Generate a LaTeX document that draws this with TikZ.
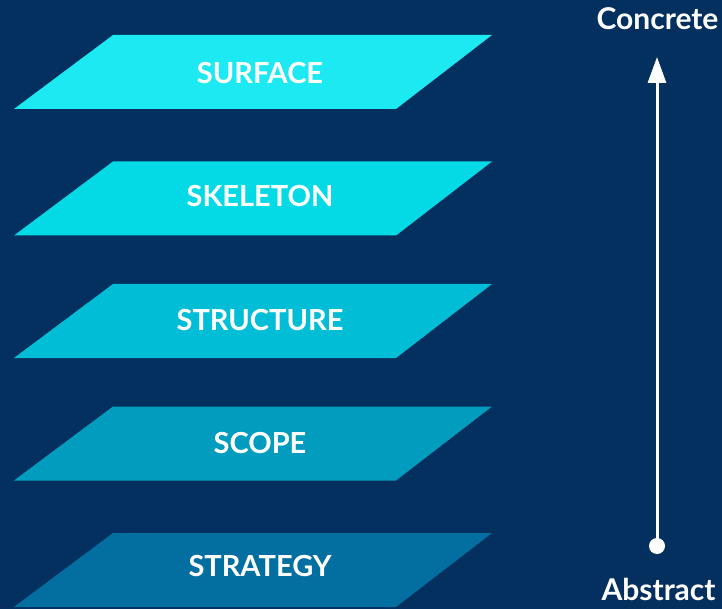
\documentclass[tikz,border=0pt]{standalone}
\usepackage{fontspec}
\setmainfont{Lato}
\usetikzlibrary{arrows.meta}
\definecolor{bg}{HTML}{03305F}
\definecolor{cSurface}{HTML}{1CE9F1}
\definecolor{cSkeleton}{HTML}{03DAE6}
\definecolor{cStructure}{HTML}{01BED6}
\definecolor{cScope}{HTML}{019CBE}
\definecolor{cStrategy}{HTML}{026FA0}
\tikzset{
  layerlabel/.style={text=white, font=\bfseries\fontsize{29}{33}\selectfont, inner sep=0pt},
  endlabel/.style={text=white, font=\bfseries\fontsize{30}{34}\selectfont, inner sep=0pt},
}
\newcommand{\layerplane}[5]{%
  % #1 top y, #2 colour, #3 name, #4 text, #5 label y
  \fill[#2] (113,-#1) -- (492,-#1) -- (396,-#1-74) -- (14,-#1-74) -- cycle;
  \node[layerlabel] (#3) at (260,-#5) {#4};
}
\begin{document}
\begin{tikzpicture}[x=1pt,y=1pt]
\fill[bg] (0,0) rectangle (722,-609);
\useasboundingbox (0,0) rectangle (722,-609);
\layerplane{35}{cSurface}{surface}{SURFACE}{73}
\layerplane{161.5}{cSkeleton}{skeleton}{SKELETON}{196.5}
\layerplane{284}{cStructure}{structure}{STRUCTURE}{320}
\layerplane{406.5}{cScope}{scope}{SCOPE}{443}
\layerplane{533}{cStrategy}{strategy}{STRATEGY}{566.5}
\node[endlabel] (concrete) at (657.5,-18.5) {Concrete};
\node[endlabel] (abstract) at (658.5,-589) {Abstract};
\coordinate (base) at (657,-546);
\coordinate (tip) at (657,-57);
\fill[white] (base) circle (8);
\draw[white, line width=3, -{Triangle[width=18,length=26]}] (base) -- (tip);
\end{tikzpicture}
\end{document}
